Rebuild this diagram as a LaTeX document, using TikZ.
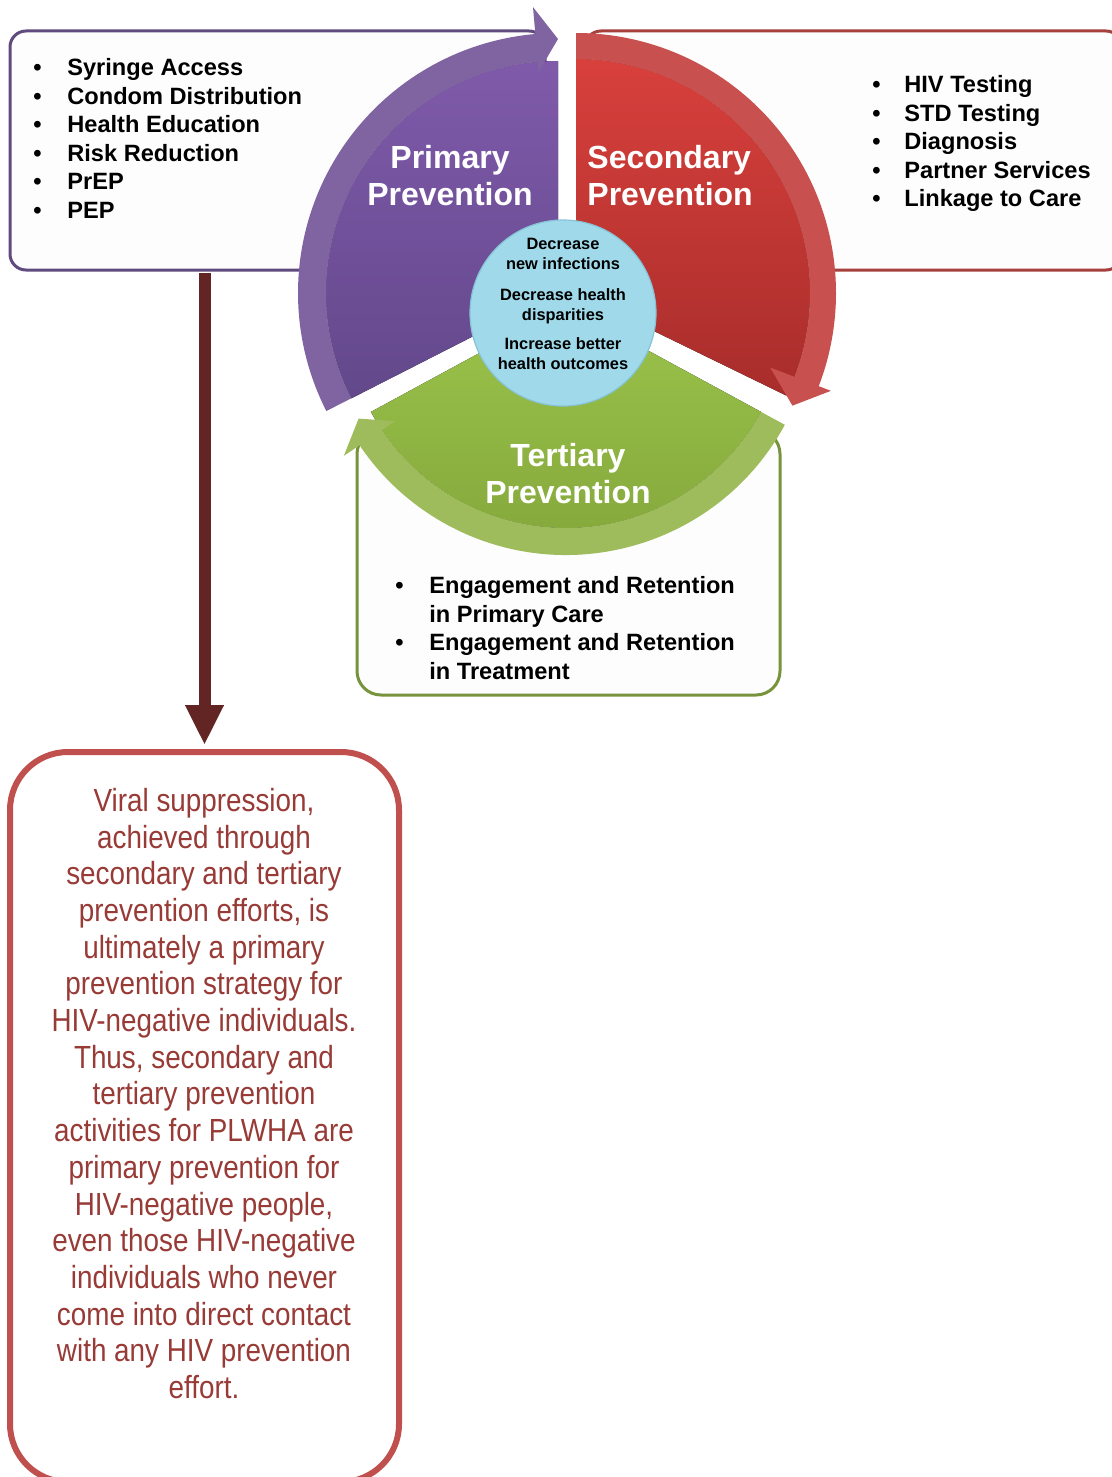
\documentclass[tikz,border=0pt]{standalone}
\usepackage{fontspec}
\setmainfont{Liberation Sans}
\newfontfamily\narrowfont[FakeStretch=0.87]{Liberation Sans}
\usetikzlibrary{positioning,calc,arrows.meta}

\definecolor{pboxc}{HTML}{5F4B7D}
\definecolor{sboxc}{HTML}{A5403D}
\definecolor{tboxc}{HTML}{77933C}
\definecolor{fboxc}{HTML}{C0504D}
\definecolor{ftextc}{HTML}{983A36}
\definecolor{arrowc}{HTML}{632523}
\definecolor{pbandc}{HTML}{8064A2}
\definecolor{ptopc}{HTML}{7F5AAA}
\definecolor{pbotc}{HTML}{63488B}
\definecolor{sbandc}{HTML}{C8504E}
\definecolor{stopc}{HTML}{D8403C}
\definecolor{sbotc}{HTML}{A82D2B}
\definecolor{tbandc}{HTML}{9EBC5B}
\definecolor{ttopc}{HTML}{9AC44B}
\definecolor{tbotc}{HTML}{84A63B}
\definecolor{hubc}{HTML}{A0DAEA}
\definecolor{hublinec}{HTML}{86C3D6}
\definecolor{boxfillc}{HTML}{FDFDFD}

\newcommand{\bul}[1]{\makebox[#1][l]{\textbullet}}

\tikzset{
  listbox/.style={line width=1.5pt, rounded corners=8pt, fill=boxfillc, inner sep=0pt},
  items/.style={font=\bfseries\fontsize{11.8}{14.25}\selectfont, align=left, anchor=north west, inner sep=0pt},
  wheeltext/.style={font=\bfseries\fontsize{16}{18.5}\selectfont, text=white, inner sep=0pt},
  flowarrow/.style={arrowc, line width=6pt, -{Triangle[length=20pt,width=18pt]}},
}

\begin{document}
\begin{tikzpicture}[x=0.5pt, y=0.5pt]
  \useasboundingbox (0,0) rectangle (1112,-1477);
  \clip (0,0) rectangle (1112,-1477);

  % boxes behind the wheel
  \node[listbox, draw=pboxc, minimum width=267.5pt, minimum height=119.5pt] (pbox) at (277.5,-150.5) {};
  \node[listbox, draw=sboxc, minimum width=268.5pt, minimum height=119.5pt] (sbox) at (853.5,-150.5) {};
  \node[listbox, draw=tboxc, rounded corners=12pt, minimum width=211.5pt, minimum height=132.5pt] (tbox) at (568.5,-562.5) {};
  \node[draw=fboxc, fill=white, line width=3pt, rounded corners=29pt, minimum width=194.5pt, minimum height=365pt] (fbox) at (204.5,-1117) {};

  \draw[flowarrow] ([yshift=-0.75pt]pbox.south -| fbox.north) -- ([yshift=2pt]fbox.north);

  % wheel
  \coordinate (pc) at (558,-293);
  \coordinate (sc) at (576,-293);
  \coordinate (tc) at (566,-306);

  \fill[top color=ttopc, bottom color=tbotc] (tc) -- ($(tc)+(208.5:222)$) arc[start angle=208.5, end angle=331.5, radius=222] -- cycle;
  \fill[tbandc] ($(tc)+(331.5:249)$) arc[start angle=331.5, end angle=214, radius=249]
    -- ($(tc)+(214:268)$) -- ($(tc)+(208.5:236)$) -- ($(tc)+(214:206)$)
    -- ($(tc)+(214:222)$) arc[start angle=214, end angle=331.5, radius=222] -- cycle;

  \fill[top color=ptopc, bottom color=pbotc] (pc) -- ($(pc)+(90:232)$) arc[start angle=90, end angle=207, radius=232] -- cycle;
  \fill[pbandc] ($(pc)+(207:260)$) arc[start angle=207, end angle=95, radius=260]
    -- ($(pc)+(95:287)$) -- ($(pc)+(90:254)$) -- ($(pc)+(95:222)$)
    -- ($(pc)+(95:232)$) arc[start angle=95, end angle=207, radius=232] -- cycle;

  \fill[top color=stopc, bottom color=sbotc] (sc) -- ($(sc)+(90:234)$) arc[start angle=90, end angle=-26, radius=234] -- cycle;
  \fill[sbandc] ($(sc)+(90:260)$) arc[start angle=90, end angle=-21, radius=260]
    -- ($(sc)+(-21:273)$) -- ($(sc)+(-27.5:244)$) -- ($(sc)+(-21:208)$)
    -- ($(sc)+(-21:234)$) arc[start angle=-21, end angle=90, radius=234] -- cycle;

  \node[circle, minimum size=93pt, inner sep=0pt, fill=hubc, draw=hublinec, line width=0.6pt] (hub) at (563,-313) {};
  \node[font=\bfseries\fontsize{8.2}{9.8}\selectfont, align=center, inner sep=0pt] (hubtext) at (563,-304)
    {Decrease\\new infections\\[6pt]Decrease health\\disparities\\[5pt]Increase better\\health outcomes};

  \node[wheeltext, align=center] (plabel) at (450,-175.5) {Primary\\Prevention};
  \node[wheeltext, align=left, anchor=west] (slabel) at (587,-175.5) {Secondary\\Prevention};
  \node[wheeltext, align=center] (tlabel) at (568,-473.5) {Tertiary\\Prevention};

  % lists
  \node[items] (plist) at (33,-58) {\bul{17pt}Syringe Access\\\bul{17pt}Condom Distribution\\\bul{17pt}Health Education\\\bul{17pt}Risk Reduction\\\bul{17pt}PrEP\\\bul{17pt}PEP};
  \node[items] (slist) at (872,-75) {\bul{16pt}HIV Testing\\\bul{16pt}STD Testing\\\bul{16pt}Diagnosis\\\bul{16pt}Partner Services\\\bul{16pt}Linkage to Care};
  \node[items, font=\bfseries\fontsize{11.8}{14.35}\selectfont] (tlist) at (395,-576) {\bul{17pt}Engagement and Retention\\\hspace*{17pt}in Primary Care\\\bul{17pt}Engagement and Retention\\\hspace*{17pt}in Treatment};

  \node[font=\narrowfont\fontsize{16}{18.35}\selectfont, text=ftextc, align=center, inner sep=0pt] (ftext) at (204,-1093.5)
    {Viral suppression,\\achieved through\\secondary and tertiary\\prevention efforts, is\\ultimately a primary\\prevention strategy for\\HIV-negative individuals.\\Thus, secondary and\\tertiary prevention\\activities for PLWHA are\\primary prevention for\\HIV-negative people,\\even those HIV-negative\\individuals who never\\come into direct contact\\with any HIV prevention\\effort.};
\end{tikzpicture}
\end{document}
